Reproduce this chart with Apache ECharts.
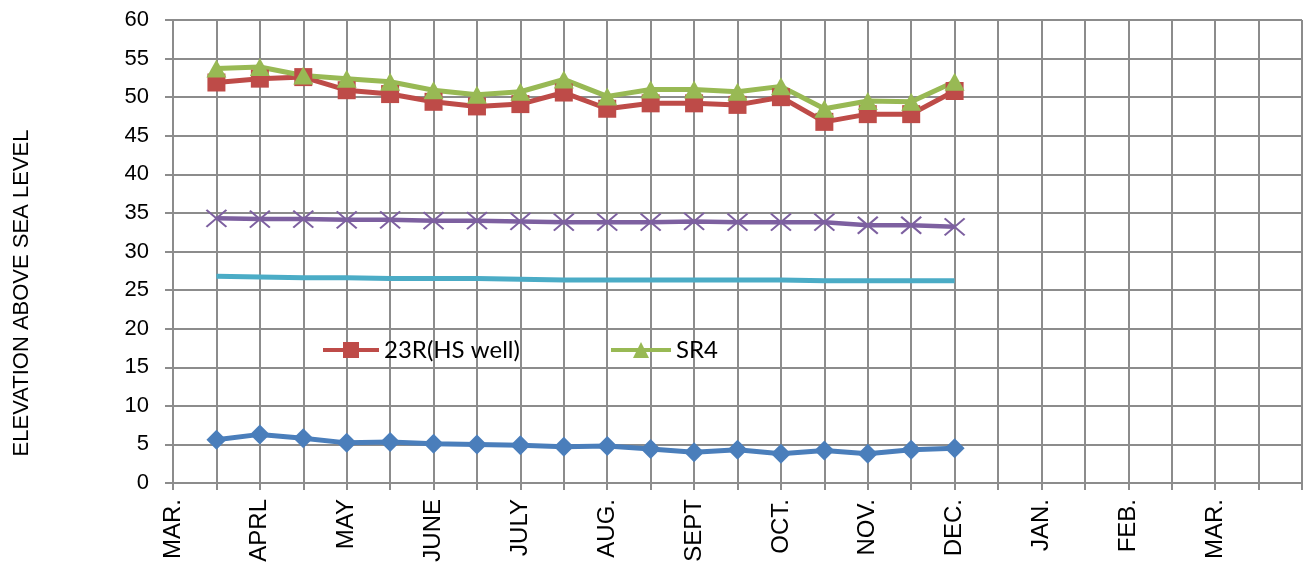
<!DOCTYPE html>
<html>
<head>
<meta charset="utf-8">
<script src="https://cdn.jsdelivr.net/npm/echarts@6/dist/echarts.min.js"></script>
<style>
html, body { margin: 0; padding: 0; background: #fff; }
#main { width: 1306px; height: 570px; }
</style>
</head>
<body>
<div id="main"></div>
<script>
// x axis: half-month steps, label on every other one
var months = ['MAR.', '', 'APRL', '', 'MAY', '', 'JUNE', '', 'JULY', '', 'AUG.', '', 'SEPT', '', 'OCT.', '', 'NOV.', '', 'DEC.', '', 'JAN.', '', 'FEB.', '', 'MAR.', '', ''];

// readings, starting at the step after the first MAR.
var blueVals   = [5.6, 6.3, 5.8, 5.2, 5.3, 5.1, 5.0, 4.9, 4.7, 4.8, 4.4, 4.0, 4.3, 3.8, 4.2, 3.8, 4.3, 4.5];
var hsWell     = [51.9, 52.4, 52.6, 50.9, 50.4, 49.4, 48.8, 49.1, 50.6, 48.5, 49.2, 49.2, 49.0, 50.0, 46.8, 47.8, 47.8, 50.8];
var sr4        = [53.7, 53.9, 52.8, 52.4, 52.0, 50.9, 50.3, 50.7, 52.3, 50.1, 51.0, 51.0, 50.7, 51.4, 48.5, 49.5, 49.4, 52.0];
var purpleVals = [34.3, 34.2, 34.2, 34.1, 34.1, 34.0, 34.0, 33.9, 33.8, 33.8, 33.8, 33.9, 33.8, 33.8, 33.8, 33.4, 33.4, 33.2];
var cyanVals   = [26.8, 26.7, 26.6, 26.6, 26.5, 26.5, 26.5, 26.4, 26.3, 26.3, 26.3, 26.3, 26.3, 26.3, 26.2, 26.2, 26.2, 26.2];

function pad(arr) { return [null].concat(arr); }

var axisFont = "'Liberation Sans', Arial, sans-serif";
var gridColor = '#8c8c8c';

var chart = echarts.init(document.getElementById('main'));

option = {
    animation: false,
    grid: { left: 173, right: 4, top: 20, bottom: 87 },
    legend: [{
        data: ['23R(HS well)'],
        left: 316, top: 333,
        itemWidth: 56, itemHeight: 20,
        lineStyle: { width: 4 },
        textStyle: { fontFamily: 'Lato, sans-serif', fontSize: 24, color: '#000' }
    }, {
        data: ['SR4'],
        left: 604, top: 333,
        itemWidth: 60, itemHeight: 20,
        lineStyle: { width: 4 },
        textStyle: { fontFamily: 'Lato, sans-serif', fontSize: 24, color: '#000' }
    }],
    graphic: [{
        type: 'text',
        x: 22, y: 293,
        rotation: Math.PI / 2,
        style: {
            text: 'ELEVATION ABOVE SEA LEVEL',
            font: '22px ' + axisFont,
            fill: '#000',
            align: 'center',
            verticalAlign: 'middle'
        }
    }],
    xAxis: {
        type: 'category',
        data: months,
        boundaryGap: false,
        axisLine: { lineStyle: { color: gridColor, width: 2 } },
        axisTick: { show: true, interval: 0, length: 7, lineStyle: { color: gridColor, width: 2 } },
        splitLine: { show: true, interval: 0, lineStyle: { color: gridColor, width: 2 } },
        axisLabel: { interval: 0, rotate: 90, margin: 16, fontFamily: axisFont, fontSize: 24, color: '#000' }
    },
    yAxis: {
        type: 'value',
        min: 0, max: 60, interval: 5,
        axisLine: { show: true, lineStyle: { color: gridColor, width: 2 } },
        axisTick: { show: true, length: 8, lineStyle: { color: gridColor, width: 2 } },
        splitLine: { lineStyle: { color: gridColor, width: 2 } },
        axisLabel: { margin: 24, fontFamily: axisFont, fontSize: 22, color: '#000' }
    },
    series: [{
        name: 'series1',
        type: 'line',
        data: pad(blueVals),
        symbol: 'diamond', symbolSize: 20,
        lineStyle: { width: 5, color: '#4a7ebb' },
        itemStyle: { color: '#4a7ebb' }
    }, {
        name: '23R(HS well)',
        type: 'line',
        data: pad(hsWell),
        symbol: 'rect', symbolSize: 18,
        lineStyle: { width: 5, color: '#be4b48' },
        itemStyle: { color: '#be4b48' }
    }, {
        name: 'SR4',
        type: 'line',
        data: pad(sr4),
        symbol: 'triangle', symbolSize: [20, 18],
        lineStyle: { width: 5, color: '#98b954' },
        itemStyle: { color: '#98b954' }
    }, {
        name: 'series4',
        type: 'line',
        data: pad(purpleVals),
        symbol: 'path://M0,0L10,10M10,0L0,10', symbolSize: [20, 17],
        lineStyle: { width: 4.5, color: '#7d60a0' },
        itemStyle: { color: 'none', borderColor: '#7d60a0', borderWidth: 2 }
    }, {
        name: 'series5',
        type: 'line',
        data: pad(cyanVals),
        symbol: 'none',
        lineStyle: { width: 5, color: '#4bacc6' }
    }]
};

chart.setOption(option);
</script>
</body>
</html>
